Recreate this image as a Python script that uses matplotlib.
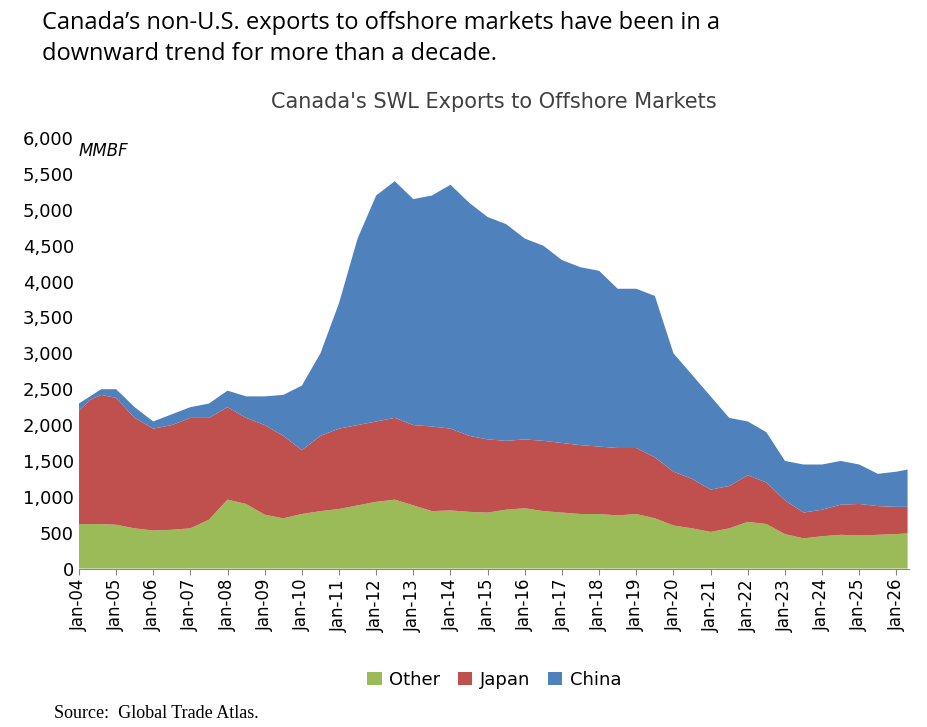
import numpy as np
import matplotlib.pyplot as plt

# decimal years of the points
years = [2004.0, 2004.3, 2004.6, 2005.0, 2005.5, 2006.0, 2006.5, 2007.0, 2007.5, 2008.0,
         2008.5, 2009.0, 2009.5, 2010.0, 2010.5, 2011.0, 2011.5, 2012.0, 2012.5, 2013.0,
         2013.5, 2014.0, 2014.5, 2015.0, 2015.5, 2016.0, 2016.5, 2017.0, 2017.5, 2018.0,
         2018.5, 2019.0, 2019.5, 2020.0, 2020.5, 2021.0, 2021.5, 2022.0, 2022.5, 2023.0,
         2023.5, 2024.0, 2024.5, 2025.0, 2025.5, 2026.0, 2026.3]
other = [620, 620, 620, 610, 560, 530, 540, 560, 680, 960,
         900, 750, 700, 760, 800, 830, 880, 930, 960, 880,
         800, 810, 790, 780, 820, 840, 800, 780, 760, 760,
         740, 760, 700, 600, 560, 510, 560, 650, 620, 480,
         420, 450, 470, 460, 470, 480, 490]
japan_top = [2200, 2350, 2420, 2380, 2100, 1950, 2000, 2100, 2100, 2250,
             2100, 2000, 1850, 1650, 1850, 1950, 2000, 2050, 2100, 2000,
             1980, 1950, 1850, 1800, 1780, 1800, 1780, 1750, 1720, 1700,
             1680, 1680, 1550, 1350, 1250, 1100, 1150, 1300, 1200, 950,
             780, 820, 890, 900, 870, 860, 860]
total = [2300, 2400, 2500, 2500, 2250, 2050, 2150, 2250, 2300, 2480,
         2400, 2400, 2420, 2550, 3000, 3700, 4600, 5200, 5400, 5150,
         5200, 5350, 5100, 4900, 4800, 4600, 4500, 4300, 4200, 4150,
         3900, 3900, 3800, 3000, 2700, 2400, 2100, 2050, 1900, 1500,
         1450, 1450, 1500, 1450, 1320, 1350, 1380]
tick_years = list(range(2004, 2027))
tick_labels = ['Jan-%02d' % (y % 100) for y in tick_years]

x = np.array(years)
japan = np.array(japan_top) - np.array(other)
china = np.array(total) - np.array(japan_top)

fig = plt.figure(figsize=(9.28, 7.27), dpi=100)
fig.text(0.045, 0.985, "Canada\u2019s non-U.S. exports to offshore markets have been in a\n"
         "downward trend for more than a decade.", fontsize=17, va='top', ha='left',
         family='Open Sans', linespacing=1.4)
fig.text(0.058, 0.012, 'Source:  Global Trade Atlas.', fontsize=13, family='Liberation Serif')

ax = fig.add_axes([0.085, 0.218, 0.895, 0.592])
ax.stackplot(x, other, japan, china, colors=['#9BBB59', '#C0504D', '#4F81BD'],
             labels=['Other', 'Japan', 'China'])
ax.set_xlim(2004, 2026.35)
ax.set_ylim(0, 6000)
ax.set_yticks(np.arange(0, 6001, 500))
ax.set_yticklabels(['{:,}'.format(v) for v in range(0, 6001, 500)], fontsize=13)
ax.set_xticks(tick_years)
ax.set_xticklabels(tick_labels, rotation=90, fontsize=12)
ax.tick_params(axis='y', length=0)
ax.tick_params(axis='x', length=4, color='#888888')
for s in ['top', 'right', 'left']:
    ax.spines[s].set_visible(False)
ax.spines['bottom'].set_color('#888888')
ax.set_title("Canada's SWL Exports to Offshore Markets", fontsize=15, color='#404040', pad=22)
ax.text(0.0, 0.99, 'MMBF', transform=ax.transAxes, fontstyle='italic', fontsize=12, va='top')
ax.legend(loc='upper center', bbox_to_anchor=(0.5, -0.2), ncol=3, frameon=False,
          fontsize=13, handlelength=0.8, handleheight=0.8, columnspacing=1.0, handletextpad=0.4)

fig.savefig('out.png', dpi=100)
